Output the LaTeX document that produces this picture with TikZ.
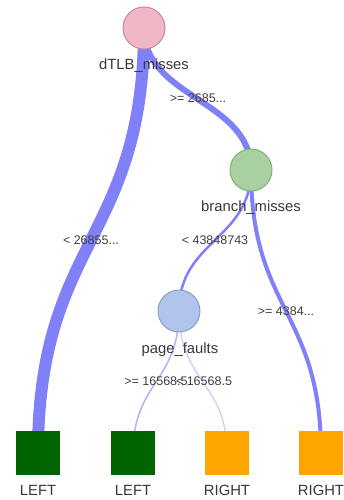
\documentclass[tikz,border=0pt]{standalone}
\usepackage{fontspec}
\setmainfont{Liberation Sans}
\begin{document}
\begin{tikzpicture}[x=1pt,y=-1pt,
  inner/.style={circle,minimum size=42pt,inner sep=0pt,line width=1pt},
  leaf/.style={rectangle,minimum size=44pt,inner sep=0pt},
  nlabel/.style={font=\fontsize{14.8}{14.8}\selectfont,text=black!78,inner sep=0pt},
  elabel/.style={font=\fontsize{12.5}{12.5}\selectfont,text=black!75,inner sep=0pt},
  link/.style={draw=edgeblue,line cap=butt}]
\definecolor{edgeblue}{RGB}{128,128,248}
\definecolor{rootfill}{RGB}{240,184,196}
\definecolor{rootline}{RGB}{200,140,152}
\definecolor{brfill}{RGB}{168,208,160}
\definecolor{brline}{RGB}{128,176,120}
\definecolor{pgfill}{RGB}{176,196,236}
\definecolor{pgline}{RGB}{136,160,204}
\definecolor{leftfill}{RGB}{0,100,0}
\definecolor{rightfill}{RGB}{255,165,0}
\useasboundingbox[fill=white] (0,0) rectangle (344,500);
% coordinates of node centres
\coordinate (rc) at (144,28);
\coordinate (bc) at (251,170);
\coordinate (pc) at (179,311);
\coordinate (l1c) at (38,453);
\coordinate (l2c) at (133,453);
\coordinate (r1c) at (227,453);
\coordinate (r2c) at (321,453);
% links
\draw[link,line width=12pt] (rc) .. controls (144,240) and (38,240) .. (l1c);
\draw[link,line width=6pt] (rc) .. controls (144,99) and (251,99) .. (bc);
\draw[link,line width=4pt] (bc) .. controls (251,311) and (321,311) .. (r2c);
\draw[link,line width=2.5pt] (bc) .. controls (251,240) and (179,240) .. (pc);
\draw[link,line width=1.5pt,draw opacity=0.6] (pc) .. controls (179,382) and (133,382) .. (l2c);
\draw[link,line width=1.3pt,draw opacity=0.4] (pc) .. controls (179,382) and (227,382) .. (r1c);
% nodes
\node[inner,fill=rootfill,draw=rootline] (root) at (rc) {};
\node[inner,fill=brfill,draw=brline] (br) at (bc) {};
\node[inner,fill=pgfill,draw=pgline] (pg) at (pc) {};
\node[leaf,fill=leftfill] (l1) at (l1c) {};
\node[leaf,fill=leftfill] (l2) at (l2c) {};
\node[leaf,fill=rightfill] (r1) at (r1c) {};
\node[leaf,fill=rightfill] (r2) at (r2c) {};
% node labels
\node[nlabel] (rootlab) at (144,66) {dTLB\_misses};
\node[nlabel] (brlab) at (251,208) {branch\_misses};
\node[nlabel] (pglab) at (180,350) {page\_faults};
\node[nlabel] (l1lab) at (38,490) {LEFT};
\node[nlabel] (l2lab) at (133,490) {LEFT};
\node[nlabel] (r1lab) at (227,490) {RIGHT};
\node[nlabel] (r2lab) at (321,490) {RIGHT};
% edge labels
\node[elabel] (e1) at (91,240) {< 26855...};
\node[elabel] (e2) at (198,98) {>= 2685...};
\node[elabel] (e3) at (215,240) {< 43848743};
\node[elabel] (e4) at (286,311) {>= 4384...};
\node[elabel] (e5) at (156,381) {>= 16568.5};
\node[elabel] (e6) at (204,381) {< 16568.5};
\end{tikzpicture}
\end{document}
